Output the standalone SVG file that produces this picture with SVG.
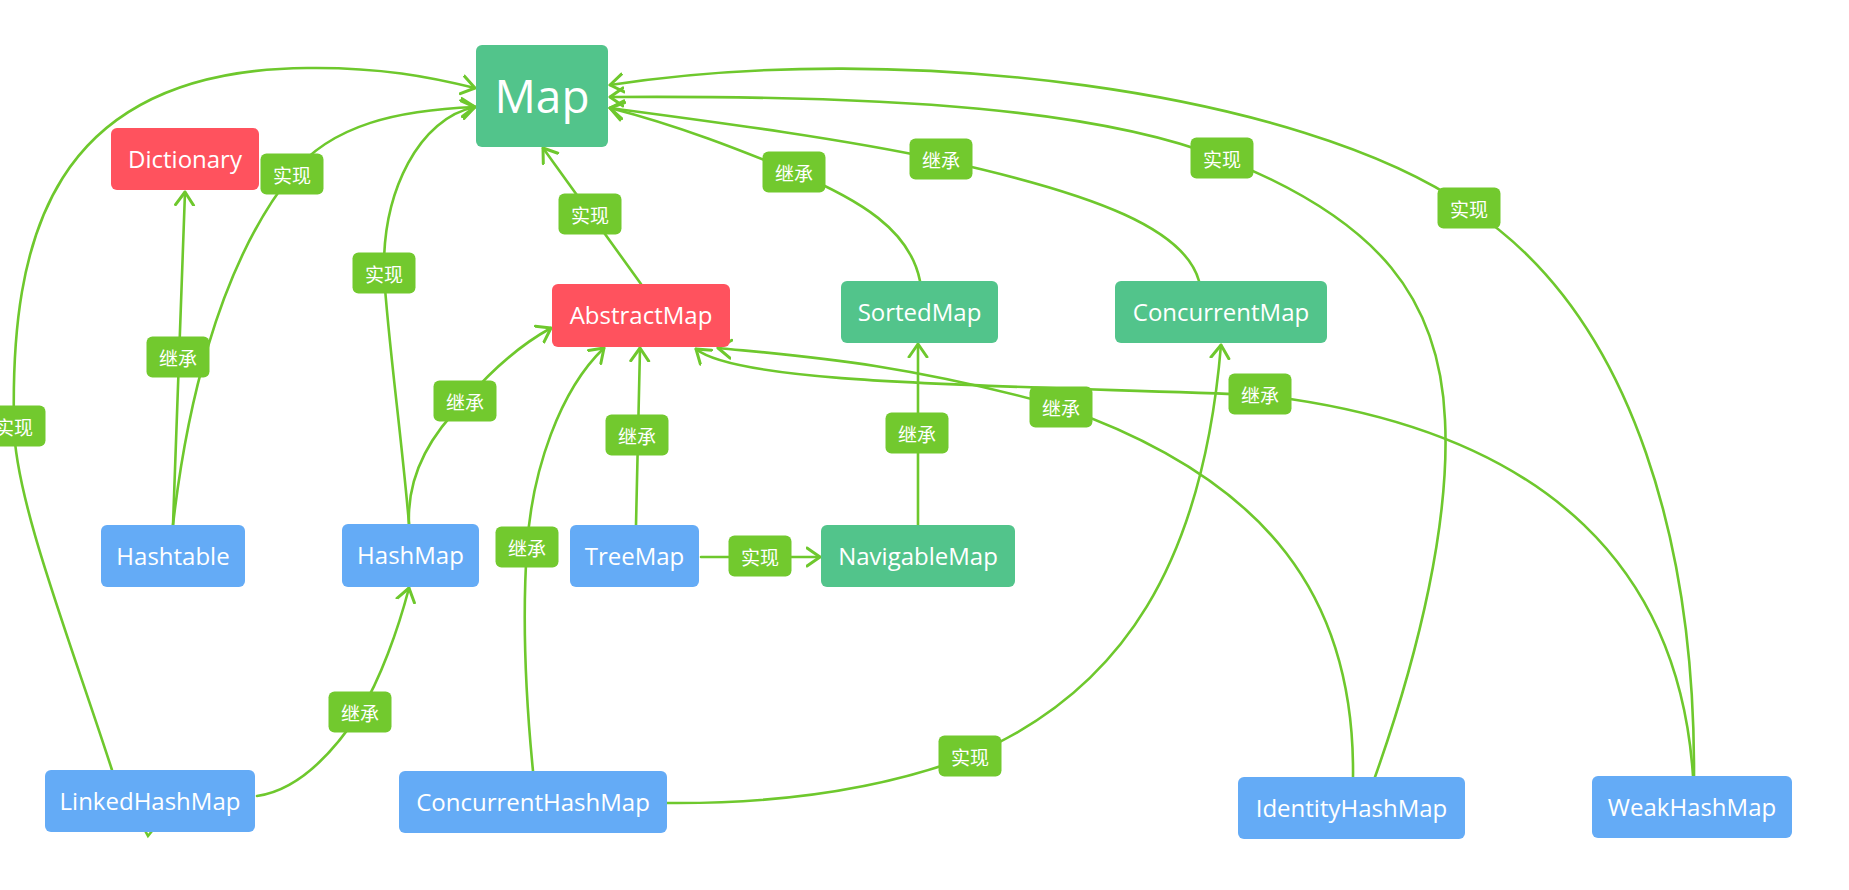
<svg xmlns="http://www.w3.org/2000/svg" width="1849" height="890" viewBox="0 0 1849 890">
<style>
.bg{fill:#ffffff}
.edge{fill:none;stroke:#6EC82D;stroke-width:2.6;stroke-linecap:round}
.arrow{marker-end:url(#arr)}
.n rect{rx:6;ry:6}
.green rect{fill:#52C48B}
.red rect{fill:#FF525E}
.blue rect{fill:#64ABF6}
.n text{fill:#ffffff;font-family:"Open Sans","Noto Sans",sans-serif;font-size:24px;text-anchor:middle}
.lbl rect{fill:#72C92E;rx:6;ry:6}
.lbl text{fill:#ffffff;font-family:"Noto Sans CJK SC",sans-serif;font-size:19px;text-anchor:middle;dominant-baseline:central}
</style>
<defs>
<marker id="arr" viewBox="0 0 16 22" refX="14" refY="11" markerWidth="16" markerHeight="22" markerUnits="userSpaceOnUse" orient="auto">
<path d="M1,2 L14,11 L1,20" fill="none" stroke="#6EC82D" stroke-width="3" stroke-linecap="round" stroke-linejoin="round"/>
</marker>
</defs>
<rect class="bg" x="0" y="0" width="1849" height="890"/>
<g id="connectors">
<path class="edge arrow" d="M173,525 L185,192"/>
<path class="edge arrow" d="M173,525 C185,420 215,270 292,174 C332,124 400,110 475,107"/>
<path class="edge arrow" d="M152,831 L148,836 L112,770 C70,640 15,500 14,426 C10,240 50,70 307,68 C380,67 430,77 475,88"/>
<path class="edge arrow" d="M409,524 C402,440 388,340 384,274 C382,190 420,118 475,107"/>
<path class="edge arrow" d="M641,284 L543,148"/>
<path class="edge arrow" d="M409,524 C407,480 425,440 465,401 C490,372 520,345 551,328"/>
<path class="edge arrow" d="M636,525 L640,348"/>
<path class="edge arrow" d="M533,771 C526,700 522,620 527,547 C532,470 560,390 604,348"/>
<path class="edge arrow" d="M701,557 L820,557"/>
<path class="edge arrow" d="M257,796 C300,790 335,750 360,712 C380,680 398,630 409,588"/>
<path class="edge arrow" d="M667,803 C780,804 880,790 970,756 C1125,690 1203,560 1221,345"/>
<path class="edge arrow" d="M918,525 L918,344"/>
<path class="edge arrow" d="M920,281 C910,230 860,200 794,172 C740,150 680,126 610,108"/>
<path class="edge arrow" d="M1199,281 C1185,230 1100,195 941,160 C840,138 700,120 610,108"/>
<path class="edge arrow" d="M1353,777 C1355,600 1270,480 1061,407 C900,362 800,356 718,348"/>
<path class="edge arrow" d="M1693,776 C1680,580 1560,430 1260,395 C1000,385 740,385 696,349"/>
<path class="edge arrow" d="M1375,777 C1420,650 1450,520 1445,420 C1440,300 1380,220 1222,158 C1100,110 900,95 610,97"/>
<path class="edge arrow" d="M1694,776 C1695,560 1640,320 1469,208 C1300,90 900,40 610,85"/>
</g>
<g id="node-map" class="n green"><rect x="476" y="45" width="132" height="102"/><text x="542" y="113" style="font-size:46px">Map</text></g>
<g id="node-dictionary" class="n red"><rect x="111" y="128" width="148" height="62"/><text x="185" y="168">Dictionary</text></g>
<g id="node-abstractmap" class="n red"><rect x="552" y="284" width="178" height="63"/><text x="641" y="324">AbstractMap</text></g>
<g id="node-sortedmap" class="n green"><rect x="841" y="281" width="157" height="62"/><text x="919.5" y="321">SortedMap</text></g>
<g id="node-concurrentmap" class="n green"><rect x="1115" y="281" width="212" height="62"/><text x="1221" y="321">ConcurrentMap</text></g>
<g id="node-hashtable" class="n blue"><rect x="101" y="525" width="144" height="62"/><text x="173" y="565">Hashtable</text></g>
<g id="node-hashmap" class="n blue"><rect x="342" y="524" width="137" height="63"/><text x="410.5" y="564">HashMap</text></g>
<g id="node-treemap" class="n blue"><rect x="570" y="525" width="129" height="62"/><text x="634.5" y="565">TreeMap</text></g>
<g id="node-navigablemap" class="n green"><rect x="821" y="525" width="194" height="62"/><text x="918" y="565">NavigableMap</text></g>
<g id="node-linkedhashmap" class="n blue"><rect x="45" y="770" width="210" height="62"/><text x="150" y="810">LinkedHashMap</text></g>
<g id="node-concurrenthashmap" class="n blue"><rect x="399" y="771" width="268" height="62"/><text x="533" y="811">ConcurrentHashMap</text></g>
<g id="node-identityhashmap" class="n blue"><rect x="1238" y="777" width="227" height="62"/><text x="1351.5" y="817">IdentityHashMap</text></g>
<g id="node-weakhashmap" class="n blue"><rect x="1592" y="776" width="200" height="62"/><text x="1692" y="816">WeakHashMap</text></g>
<g id="connector-labels">
<g class="lbl"><rect x="260.5" y="153.5" width="63" height="41"/><text x="292" y="174">实现</text></g>
<g class="lbl"><rect x="146.5" y="336.5" width="63" height="41"/><text x="178" y="357">继承</text></g>
<g class="lbl"><rect x="-17.5" y="405.5" width="63" height="41"/><text x="14" y="426">实现</text></g>
<g class="lbl"><rect x="352.5" y="252.5" width="63" height="41"/><text x="384" y="273">实现</text></g>
<g class="lbl"><rect x="558.5" y="193.5" width="63" height="41"/><text x="590" y="214">实现</text></g>
<g class="lbl"><rect x="433.5" y="380.5" width="63" height="41"/><text x="465" y="401">继承</text></g>
<g class="lbl"><rect x="605.5" y="414.5" width="63" height="41"/><text x="637" y="435">继承</text></g>
<g class="lbl"><rect x="495.5" y="526.5" width="63" height="41"/><text x="527" y="547">继承</text></g>
<g class="lbl"><rect x="728.5" y="535.5" width="63" height="41"/><text x="760" y="556">实现</text></g>
<g class="lbl"><rect x="328.5" y="691.5" width="63" height="41"/><text x="360" y="712">继承</text></g>
<g class="lbl"><rect x="938.5" y="735.5" width="63" height="41"/><text x="970" y="756">实现</text></g>
<g class="lbl"><rect x="885.5" y="412.5" width="63" height="41"/><text x="917" y="433">继承</text></g>
<g class="lbl"><rect x="762.5" y="151.5" width="63" height="41"/><text x="794" y="172">继承</text></g>
<g class="lbl"><rect x="909.5" y="138.5" width="63" height="41"/><text x="941" y="159">继承</text></g>
<g class="lbl"><rect x="1029.5" y="386.5" width="63" height="41"/><text x="1061" y="407">继承</text></g>
<g class="lbl"><rect x="1228.5" y="373.5" width="63" height="41"/><text x="1260" y="394">继承</text></g>
<g class="lbl"><rect x="1190.5" y="137.5" width="63" height="41"/><text x="1222" y="158">实现</text></g>
<g class="lbl"><rect x="1437.5" y="187.5" width="63" height="41"/><text x="1469" y="208">实现</text></g>
</g>
</svg>
